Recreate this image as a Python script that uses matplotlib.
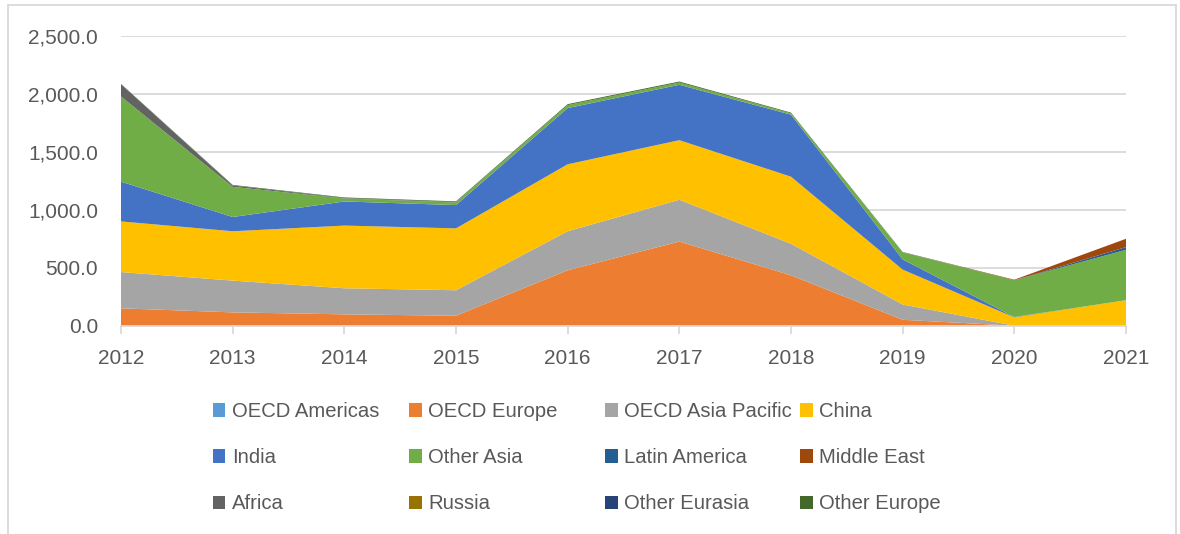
import matplotlib.pyplot as plt
import numpy as np
from matplotlib.patches import Rectangle
from matplotlib.ticker import FuncFormatter

plt.rcParams['font.family'] = ['Liberation Sans', 'DejaVu Sans']

years = [2012, 2013, 2014, 2015, 2016, 2017, 2018, 2019, 2020, 2021]

oecd_americas = [0, 0, 0, 0, 0, 0, 0, 0, 0, 0]
oecd_europe = [150, 115, 98, 86, 478, 726, 435, 51, 0, 0]
oecd_asia_pacific = [313, 274, 225, 220, 337, 361, 272, 132, 0, 0]
china = [437, 426, 541, 534, 578, 514, 579, 301, 72, 220]
india = [343, 123, 208, 201, 485, 478, 535, 88, 3, 0]
other_asia = [735, 260, 26, 22, 26, 20, 12, 60, 317, 435]
latin_america = [0, 0, 0, 0, 0, 0, 0, 0, 0, 23]
middle_east = [0, 0, 0, 0, 0, 0, 0, 0, 5, 72]
africa = [106, 12, 4, 4, 0, 0, 0, 0, 0, 0]
russia = [0, 0, 0, 0, 0, 0, 0, 0, 0, 0]
other_eurasia = [0, 0, 0, 0, 0, 0, 0, 0, 0, 0]
other_europe = [3, 5, 5, 6, 8, 8, 6, 4, 0, 0]

names = ['OECD Americas', 'OECD Europe', 'OECD Asia Pacific', 'China',
         'India', 'Other Asia', 'Latin America', 'Middle East',
         'Africa', 'Russia', 'Other Eurasia', 'Other Europe']
series = [oecd_americas, oecd_europe, oecd_asia_pacific, china,
          india, other_asia, latin_america, middle_east,
          africa, russia, other_eurasia, other_europe]
colors = ['#5B9BD5', '#ED7D31', '#A5A5A5', '#FFC000',
          '#4472C4', '#70AD47', '#255E91', '#9E480E',
          '#636363', '#997300', '#264478', '#43682B']

txt = '#595959'

fig = plt.figure(figsize=(11.8, 5.34), dpi=100)
ax = fig.add_axes([121 / 1180, 1 - 325.7 / 534, (1126 - 121) / 1180, (325.7 - 36) / 534])

polys = ax.stackplot(years, *series, colors=colors, labels=names, lw=0)

ax.set_xlim(2012, 2021)
ax.set_ylim(0, 2500)
ax.set_yticks(np.arange(0, 2501, 500))
ax.yaxis.set_major_formatter(FuncFormatter(lambda v, p: f'{v:,.1f}'))
ax.set_xticks(years)
ax.grid(axis='y', color='#D9D9D9', lw=1.3)
ax.set_axisbelow(True)
for s in ['left', 'right', 'top']:
    ax.spines[s].set_visible(False)
ax.spines['bottom'].set_color('#D9D9D9')
ax.spines['bottom'].set_linewidth(1.3)
ax.tick_params(axis='y', length=0, pad=16.5, labelsize=15, labelcolor=txt)
ax.tick_params(axis='x', length=6, width=1.3, color='#D9D9D9', pad=11,
               labelsize=15, labelcolor=txt)

# legend laid out row by row in four fixed columns
col_x = [212.7, 409, 605, 800]
for c in range(4):
    idx = [c, c + 4, c + 8]
    handles = [polys[i] for i in idx]
    labels = [names[i] for i in idx]
    fig.legend(handles, labels, loc='upper left',
               bbox_to_anchor=(col_x[c] / 1180, 1 - 402 / 534),
               frameon=False, borderpad=0, borderaxespad=0,
               handlelength=0.63, handleheight=0.63, handletextpad=0.31,
               labelspacing=1.34, fontsize=14.6, labelcolor=txt)

fig.patches.append(Rectangle((8 / 1180, -0.01), 1168 / 1180, 1 - 5 / 534 + 0.01,
                             transform=fig.transFigure, fill=False,
                             edgecolor='#D9D9D9', lw=1.3))

fig.savefig('out.png', dpi=100)
